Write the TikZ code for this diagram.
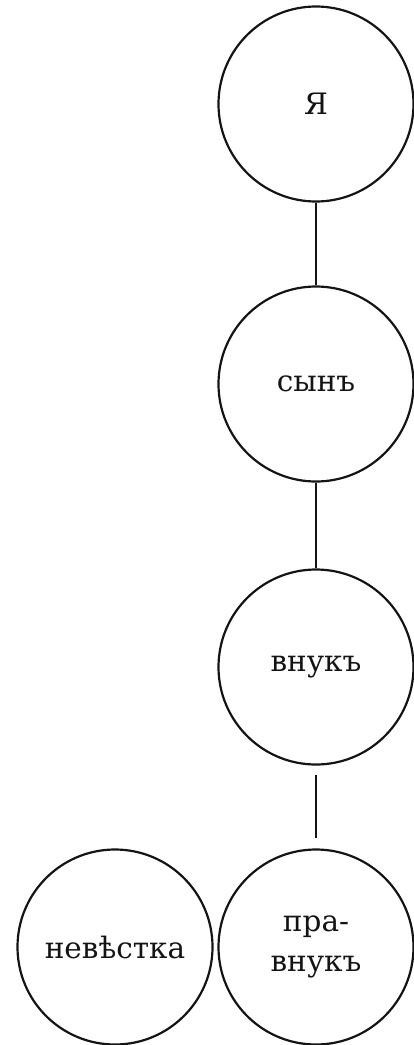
\documentclass[tikz,border=0pt]{standalone}
\usepackage{fontspec}
\setmainfont{DejaVu Serif}
\definecolor{ink}{HTML}{141414}
\begin{document}
\begin{tikzpicture}[x=1pt,y=-1pt,
  kin/.style={circle,draw=ink,line width=2.2pt,minimum size=195pt,inner sep=0pt,
    text=ink,font=\fontsize{29.5}{40}\selectfont,align=center},
  tie/.style={draw=ink,line width=1.4pt}]
\useasboundingbox (0,0) rectangle (414,1045);
\node[kin] (ya) at (316,104) {Я};
\node[kin] (syn) at (316,384) {сынъ};
\node[kin] (vnuk) at (316,667) {внукъ};
\node[kin] (pravnuk) at (316,947) {пра-\\внукъ};
\node[kin] (nevestka) at (115,947) {невѣстка};
\draw[tie] (ya) -- (syn);
\draw[tie] (syn) -- (vnuk);
\draw[tie,shorten <=9pt,shorten >=10pt] (vnuk) -- (pravnuk);
\end{tikzpicture}
\end{document}
